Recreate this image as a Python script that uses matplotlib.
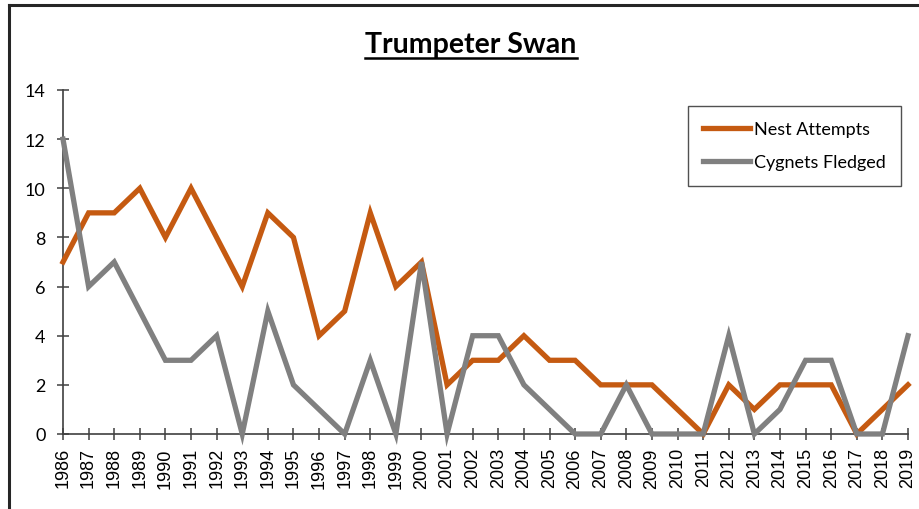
import numpy as np
import matplotlib.pyplot as plt
from matplotlib.lines import Line2D

years = list(range(1986, 2020))
nest_attempts = [7, 9, 9, 10, 8, 10, 8, 6, 9, 8, 4, 5, 9, 6, 7, 2, 3, 3, 4, 3,
                 3, 2, 2, 2, 1, 0, 2, 1, 2, 2, 2, 0, 1, 2]
cygnets_fledged = [12, 6, 7, 5, 3, 3, 4, 0, 5, 2, 1, 0, 3, 0, 7, 0, 4, 4, 2, 1,
                   0, 0, 2, 0, 0, 0, 4, 0, 1, 3, 3, 0, 0, 4]
y_ticks = [0, 2, 4, 6, 8, 10, 12, 14]

W, H = 920, 510
fig = plt.figure(figsize=(9.2, 5.1), dpi=100)
ax = fig.add_axes([63 / W, 1 - 435 / H, (908 - 63) / W, (435 - 91) / H])

ax.plot(years, nest_attempts, color='#C55A11', lw=3.8, label='Nest Attempts',
        solid_joinstyle='miter', clip_on=False, zorder=3)
ax.plot(years, cygnets_fledged, color='#808080', lw=3.8, label='Cygnets Fledged',
        solid_joinstyle='miter', clip_on=False, zorder=4)

ax.set_xlim(years[0], years[-1])
ax.set_ylim(0, 14)
ax.set_xticks(years)
ax.set_xticklabels([str(y) for y in years], rotation=90, family='Liberation Sans', fontsize=13)
ax.set_yticks(y_ticks)
ax.set_yticklabels([str(v) for v in y_ticks], family='Lato', fontsize=13)

for s in ['top', 'right']:
    ax.spines[s].set_visible(False)
for s in ['left', 'bottom']:
    ax.spines[s].set_color('#404040')
    ax.spines[s].set_linewidth(1.2)
ax.tick_params(axis='y', direction='inout', length=8, width=1.1, color='#404040', pad=8.5)
ax.tick_params(axis='x', direction='inout', length=9, width=1.1, color='#404040', pad=5)

title = fig.text(471 / W, 1 - 45 / H, 'Trumpeter Swan', ha='center', va='center',
                 family='Lato', fontweight='bold', fontsize=20.5)
# underline for the title
fig.canvas.draw()
bb = title.get_window_extent()
fig.add_artist(Line2D([bb.x0 / W, bb.x1 / W], [(bb.y0 - 1) / H, (bb.y0 - 1) / H],
                      color='black', lw=1.8))

leg = ax.legend(loc='upper left', bbox_to_anchor=((688 - 63) / (908 - 63), (435 - 107) / (435 - 91)),
                frameon=True, fancybox=False, edgecolor='#262626', prop={'family': 'Lato', 'size': 13},
                handlelength=2.6, handletextpad=0.2, labelspacing=0.95, borderpad=0.85,
                borderaxespad=0)
leg.get_frame().set_linewidth(1.0)

# outer chart frame (cropped on right and bottom)
fig.add_artist(Line2D([9 / W, 9 / W], [0, 1 - 6 / H], color='#262626', lw=2.2))
fig.add_artist(Line2D([9 / W, 1], [1 - 6 / H, 1 - 6 / H], color='#262626', lw=2.2))

fig.savefig('out.png', dpi=100)
